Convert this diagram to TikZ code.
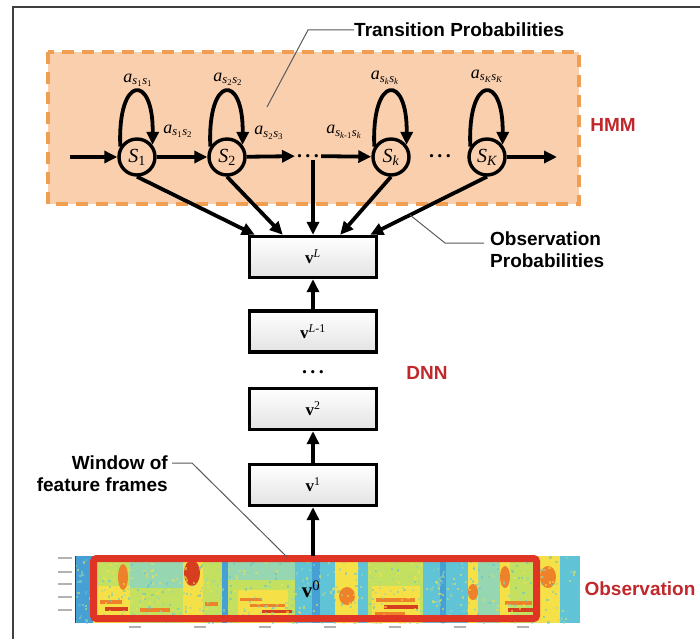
\documentclass[tikz,border=0pt]{standalone}
\usepackage{fontspec}
\setsansfont{Liberation Sans}
\newfontfamily\tms{Liberation Serif}
\usetikzlibrary{arrows.meta,calc}
\definecolor{hmmfill}{RGB}{250,207,174}
\definecolor{hmmdash}{RGB}{240,158,82}
\definecolor{lblred}{RGB}{192,40,44}
\definecolor{obsred}{RGB}{224,52,36}
\definecolor{spcy}{RGB}{96,196,214}
\definecolor{spbl}{RGB}{70,160,212}
\definecolor{spgc}{RGB}{150,214,176}
\definecolor{spyg}{RGB}{196,224,96}
\definecolor{spye}{RGB}{246,224,72}
\definecolor{spor}{RGB}{238,130,42}
\definecolor{sprd}{RGB}{214,62,32}
\newcommand\sst[1]{s\textsubscript{#1}}
\newcommand\aij[2]{{\tms\itshape a\textsubscript{\sst{#1}\sst{#2}}}}
\newcommand\stname[1]{S\textsubscript{\upshape #1}}
\begin{document}
\begin{tikzpicture}[x=1pt,y=-1pt,
  arr/.style={line width=3.8pt,-{Triangle[length=13pt,width=12pt]}},
  state/.style={circle,draw,line width=3.4pt,minimum size=36pt,inner sep=0pt,
    font=\tms\itshape\fontsize{20}{22}\selectfont},
  layer/.style={draw,line width=3.4pt,minimum width=127pt,minimum height=41pt,
    top color=white,bottom color=black!11,inner sep=0pt,
    font=\tms\bfseries\fontsize{17}{19}\selectfont},
  lead/.style={draw=black!65,line width=1pt},
  lbl/.style={font=\sffamily\bfseries\fontsize{19}{22}\selectfont,inner sep=0pt},
  redlbl/.style={lbl,text=lblred},
  trans/.style={font=\tms\itshape\fontsize{18}{20}\selectfont,inner sep=0pt},
  dotsn/.style={font=\tms\bfseries\fontsize{20}{20}\selectfont,inner sep=2pt},
  tick/.style={draw=black!30,line width=1.4pt}]
\useasboundingbox (0,0) rectangle (700,639);
% frame
\draw[black!75,line width=1.5pt] (13,639) -- (13,7) -- (700,7);
% HMM region
\fill[hmmfill] (48,52) rectangle (579,204);
\draw[hmmdash,line width=3.5pt,dash pattern=on 12pt off 8pt] (48,52) rectangle (579,204);
\node[redlbl] (hmm) at (613,125) {HMM};
% states
\node[state] (S1) at (137,157) {\stname{1}};
\node[state] (S2) at (227,157) {\stname{2}};
\node[dotsn] (d1) at (308,156) {.\,.\,.};
\node[state] (Sk) at (391,157) {\stname{\itshape k}};
\node[dotsn] (d2) at (440,156) {.\,.\,.};
\node[state] (SK) at (487,157) {\stname{\itshape K}};
\coordinate (in) at (70,157);
\coordinate (out) at (557,157);
\draw[arr] (in) -- (S1);
\draw[arr] (S1) -- (S2);
\draw[arr] (S2) -- (d1);
\draw[arr] (d1) -- (Sk);
\draw[arr] (SK) -- (out);
% self loops
\foreach \s in {S1,S2,Sk,SK}{
  \draw[arr] (\s.148) .. controls +(-3,-72) and +(1,-72) .. (\s.38);
}
% transition labels
\node[trans] (a11) at (138,80) {\aij{\upshape 1}{\upshape 1}};
\node[trans] (a22) at (228,79) {\aij{\upshape 2}{\upshape 2}};
\node[trans] (a12) at (178,131) {\aij{\upshape 1}{\upshape 2}};
\node[trans] (a23) at (269,133) {\aij{\upshape 2}{\upshape 3}};
\node[trans] (akk1) at (344,132) {\aij{k\upshape -1}{k}};
\node[trans] (akk) at (385,78) {\aij{k}{k}};
\node[trans] (aKK) at (487,76) {\aij{K}{K}};
% transition probabilities leader
\node[lbl,anchor=west] (tp) at (354,30) {Transition Probabilities};
\draw[lead] (tp.west) -- (308,30) -- (267,107);
% DNN layers
\node[layer] (vL) at (313,257) {v\textsuperscript{\mdseries\itshape L}};
\node[layer] (vL1) at (313,331.5) {v\textsuperscript{\mdseries\itshape L\upshape -1}};
\node[dotsn] (d3) at (313,372) {.\,.\,.};
\node[layer] (v2) at (313,409) {v\textsuperscript{\mdseries 2}};
\node[layer] (v1) at (313,485) {v\textsuperscript{\mdseries 1}};
\node[redlbl] (dnn) at (427,373) {DNN};
% observation arrows
\draw[arr] (S1.south) -- ([xshift=7pt]vL.north west);
\draw[arr] (S2.south) -- ([xshift=35pt]vL.north west);
\draw[arr] (vL.north |- d1.south) -- (vL.north);
\draw[arr] (Sk.south) -- ([xshift=-38pt]vL.north east);
\draw[arr] (SK.south) -- ([xshift=-8pt]vL.north east);
\draw[arr] (vL1) -- (vL);
\draw[arr] (v1) -- (v2);
% observation probabilities leader
\node[lbl,anchor=north west,align=left] (op) at (490,232) {Observation\\Probabilities};
\draw[lead] (410,215) -- (445,243) -- (484,243);
% spectrogram
\fill[spcy] (75,556) rectangle (580,623);
\fill[spbl] (75,556) rectangle (93,623);
\fill[spyg] (93,556) rectangle (130,623);
\fill[spye] (93,586) rectangle (130,623);
\fill[spor] (123,577) ellipse [x radius=5,y radius=13];
\fill[spor] (100,600) rectangle (122,604);
\fill[sprd] (105,607) rectangle (128,611);
\fill[spgc] (130,556) rectangle (183,588);
\fill[spyg] (130,588) rectangle (183,623);
\fill[spor] (140,608) rectangle (170,612);
\fill[spye] (183,556) rectangle (203,623);
\fill[sprd] (192,573) ellipse [x radius=8,y radius=13];
\fill[spyg] (203,556) rectangle (222,623);
\fill[spor] (205,602) rectangle (218,606);
\fill[spbl] (222,556) rectangle (228,623);
\fill[spgc] (228,556) rectangle (295,580);
\fill[spyg] (228,580) rectangle (295,623);
\fill[spye] (238,590) rectangle (288,623);
\fill[spor] (240,598) rectangle (262,601);
\fill[spor] (250,604) rectangle (285,607);
\fill[sprd] (262,610) rectangle (292,613);
\fill[spcy] (295,556) rectangle (335,623);
\fill[spbl] (312,556) rectangle (320,623);
\fill[spye] (335,556) rectangle (358,623);
\fill[spor] (347,596) ellipse [x radius=8,y radius=9];
\fill[spcy] (358,556) rectangle (368,623);
\fill[spyg] (368,556) rectangle (423,623);
\fill[spye] (372,586) rectangle (420,623);
\fill[spor] (376,598) rectangle (415,602);
\fill[sprd] (384,605) rectangle (418,609);
\fill[spor] (375,612) rectangle (405,615);
\fill[spcy] (423,556) rectangle (468,623);
\fill[spbl] (440,556) rectangle (446,623);
\fill[spye] (468,556) rectangle (478,623);
\fill[spor] (473,592) ellipse [x radius=5,y radius=8];
\fill[spgc] (478,556) rectangle (500,623);
\fill[spye] (500,556) rectangle (510,623);
\fill[spor] (505,577) ellipse [x radius=5,y radius=11];
\fill[spyg] (510,556) rectangle (537,623);
\fill[spor] (505,601) rectangle (532,605);
\fill[sprd] (508,608) rectangle (534,612);
\fill[spye] (537,556) rectangle (560,623);
\fill[spor] (548,577) ellipse [x radius=8,y radius=11];
\fill[spcy] (560,556) rectangle (580,623);
\begin{scope}
  \clip (75,556) rectangle (580,623);
  \pgfmathsetseed{7}
  \foreach \i in {1,...,700}{
    \pgfmathsetmacro\px{75+505*rnd}
    \pgfmathsetmacro\py{556+67*rnd}
    \pgfmathtruncatemacro\cidx{int(3*rnd)}
    \ifcase\cidx\relax \def\cc{spcy}\or \def\cc{spye}\else \def\cc{spgc}\fi
    \fill[\cc,opacity=0.55] (\px,\py) rectangle ++(2.2,2.2);
  }
\end{scope}
\draw[black!60!green,line width=1pt] (75,556) -- (75,623);
\draw[obsred,line width=7pt,rounded corners=3pt] (93.5,558.5) rectangle (536.5,618.5);
\node[font=\tms\bfseries\fontsize{21}{23}\selectfont,inner sep=1pt] (v0) at (311,589) {v\textsuperscript{\mdseries 0}};
\coordinate (v0top) at (313,556);
\draw[arr] (v0top) -- (v1);
\foreach \yy in {558,572,584,597,610}{\draw[tick] (58,\yy) -- (72,\yy);}
\foreach \xx in {135,200,265,330,395,460,523}{\draw[tick] (\xx-6,627) -- (\xx+6,627);}
\node[redlbl] (obs) at (640,589) {Observation};
% window leader
\node[lbl,anchor=east,align=right] (win) at (168,474) {Window of\\feature frames};
\draw[lead] (172,463) -- (192,463) -- (287,557);
\end{tikzpicture}
\end{document}
